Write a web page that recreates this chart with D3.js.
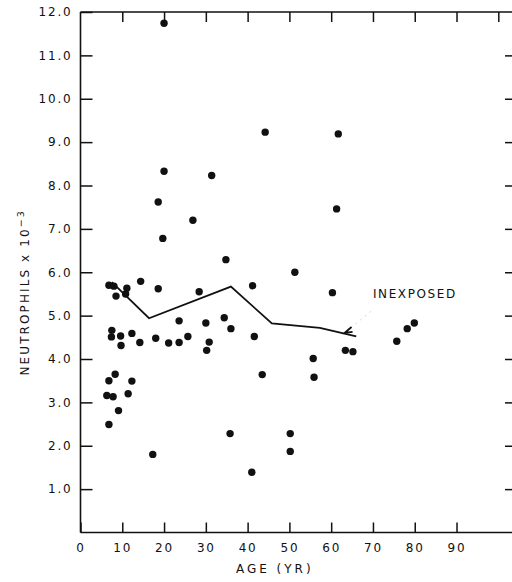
<!DOCTYPE html>
<html>
<head>
<meta charset="utf-8">
<script src="https://cdn.jsdelivr.net/npm/d3@7"></script>
<style>
  html, body { margin: 0; padding: 0; background: #fff; }
  svg { display: block; }
  text { font-family: "DejaVu Sans", sans-serif; fill: #111; }
</style>
</head>
<body>
<svg id="chart" width="512" height="582"></svg>
<script>
// ---- data ----
const ages = [20.0, 20.0, 44.2, 61.7, 31.4, 18.6, 19.7, 26.9, 61.3, 34.8,
  51.3, 6.8, 8.0, 8.5, 11.1, 10.8, 14.4, 18.6, 28.4, 41.2,
  60.3, 23.6, 30.0, 34.4, 36.0, 41.6, 7.5, 7.4, 9.6, 9.7,
  12.3, 14.2, 18.0, 21.1, 23.6, 25.7, 30.8, 30.2, 55.7, 63.4,
  65.2, 75.7, 78.2, 79.9, 8.3, 43.5, 55.9, 6.8, 12.3, 6.3,
  7.8, 11.4, 9.1, 6.8, 17.3, 35.8, 50.2, 50.2, 41.0];
const neutrophils = [11.74, 8.33, 9.23, 9.19, 8.23, 7.62, 6.78, 7.20, 7.46, 6.29,
  6.00, 5.70, 5.68, 5.45, 5.63, 5.50, 5.79, 5.62, 5.55, 5.69,
  5.53, 4.88, 4.83, 4.95, 4.70, 4.52, 4.66, 4.51, 4.53, 4.31,
  4.59, 4.38, 4.48, 4.37, 4.38, 4.52, 4.39, 4.20, 4.01, 4.20,
  4.17, 4.41, 4.70, 4.83, 3.65, 3.64, 3.58, 3.50, 3.49, 3.16,
  3.13, 3.20, 2.81, 2.49, 1.80, 2.28, 2.28, 1.87, 1.39];

const meanAges = [7.5, 16.4, 36.0, 45.8, 57.3, 66.0];
const meanValues = [5.77, 4.94, 5.67, 4.82, 4.72, 4.52];

const xLabelTicks = [0, 10, 20, 30, 40, 50, 60, 70, 80, 90];
const xTopTicks = [10, 20, 30, 40, 50, 60, 70, 80, 90, 100];
const yLabelTicks = [1, 2, 3, 4, 5, 6, 7, 8, 9, 10, 11, 12];
const yRightTicks = [1, 2, 3, 4, 5, 6, 7, 8, 9, 10, 11];

const xTitle = "AGE (YR)";
const yTitle = "NEUTROPHILS x 10";
const yTitleSup = "\u22123";
const seriesLabel = "INEXPOSED";
const labelAt = [70.0, 5.4];
const arrowTip = [63.2, 4.6];
const arrowTail = [69.5, 5.1];

// ---- scales ----
const svg = d3.select("#chart");
const x = d3.scaleLinear().domain([0, 100]).range([80.5, 498.3]);
const y = d3.scaleLinear().domain([0, 12]).range([532.5, 12]);
const xMax = 104;

const ink = "#111";

// frame lines
const frame = svg.append("g").attr("stroke", ink).attr("stroke-width", 1.6).attr("fill", "none");
frame.append("line").attr("x1", x(0)).attr("x2", x(0)).attr("y1", y(0)).attr("y2", y(12));
frame.append("line").attr("x1", x(0)).attr("x2", x(xMax)).attr("y1", y(12)).attr("y2", y(12));
frame.append("line").attr("x1", x(0)).attr("x2", x(xMax)).attr("y1", y(0)).attr("y2", y(0));
frame.append("line").attr("x1", x(xMax)).attr("x2", x(xMax)).attr("y1", y(0)).attr("y2", y(12));

function styleAxis(g) {
  g.select(".domain").remove();
  g.selectAll(".tick line").attr("stroke", ink).attr("stroke-width", 1.5);
  g.selectAll(".tick text").attr("fill", ink)
    .style("font-family", "'DejaVu Sans', sans-serif")
    .style("font-size", "12px")
    .style("letter-spacing", "1.8px");
}

// left axis
svg.append("g").attr("transform", `translate(${x(0)},0)`)
  .call(d3.axisLeft(y).tickValues(yLabelTicks).tickSizeInner(-12).tickSizeOuter(0)
    .tickPadding(8).tickFormat(d3.format(".1f")))
  .call(styleAxis);

// bottom axis
svg.append("g").attr("transform", `translate(0,${y(0)})`)
  .call(d3.axisBottom(x).tickValues(xLabelTicks).tickSizeInner(-10).tickSizeOuter(0)
    .tickPadding(11).tickFormat(d3.format("d")))
  .call(styleAxis)
  .call(g => g.selectAll(".tick text").attr("dx", "0px"));

// top axis (ticks only)
svg.append("g").attr("transform", `translate(0,${y(12)})`)
  .call(d3.axisTop(x).tickValues(xTopTicks).tickSizeInner(-10).tickSizeOuter(0).tickFormat(""))
  .call(styleAxis);

// right axis (ticks only)
svg.append("g").attr("transform", `translate(${x(xMax)},0)`)
  .call(d3.axisRight(y).tickValues(yRightTicks).tickSizeInner(-10).tickSizeOuter(0).tickFormat(""))
  .call(styleAxis);

// axis titles
svg.append("text")
  .attr("x", x(46.5)).attr("y", 573)
  .attr("text-anchor", "middle")
  .style("font-size", "12px").style("letter-spacing", "3px")
  .text(xTitle);

const yt = svg.append("text")
  .attr("transform", `translate(29,${y(3.62)}) rotate(-90)`)
  .attr("text-anchor", "start")
  .style("font-size", "12px").style("letter-spacing", "2.1px");
yt.append("tspan").text(yTitle);
yt.append("tspan").attr("dy", "-5").style("font-size", "9.5px").text(yTitleSup);

// mean line
const line = d3.line().x(d => x(d[0])).y(d => y(d[1]));
svg.append("path")
  .datum(d3.zip(meanAges, meanValues))
  .attr("d", line)
  .attr("fill", "none").attr("stroke", ink).attr("stroke-width", 1.8)
  .attr("stroke-linejoin", "miter");

// dots
svg.append("g").selectAll("circle")
  .data(d3.zip(ages, neutrophils))
  .join("circle")
  .attr("cx", d => x(d[0])).attr("cy", d => y(d[1]))
  .attr("r", 3.7).attr("fill", ink);

// label + faint leader with arrowhead
svg.append("text")
  .attr("x", x(labelAt[0])).attr("y", y(labelAt[1]))
  .style("font-size", "12px").style("letter-spacing", "1.6px")
  .text(seriesLabel);

svg.append("line")
  .attr("x1", x(arrowTail[0])).attr("y1", y(arrowTail[1]))
  .attr("x2", x(arrowTip[0])).attr("y2", y(arrowTip[1]))
  .attr("stroke", "#ccc").attr("stroke-width", 0.8).attr("stroke-dasharray", "2,4");

const tx = x(arrowTip[0]), ty = y(arrowTip[1]);
svg.append("path")
  .attr("d", `M${tx + 7},${ty - 6} L${tx},${ty} L${tx + 8},${ty - 1}`)
  .attr("fill", "none").attr("stroke", ink).attr("stroke-width", 1.8);
</script>
</body>
</html>
